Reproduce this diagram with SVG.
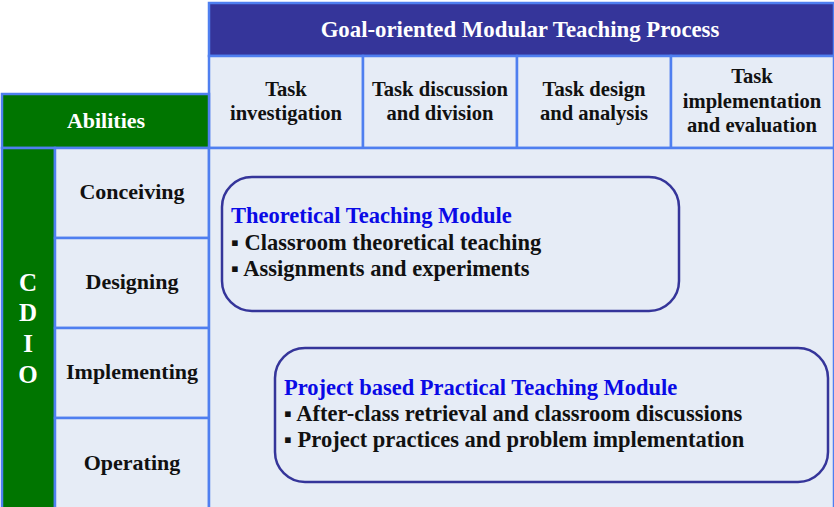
<svg xmlns="http://www.w3.org/2000/svg" width="834" height="507" viewBox="0 0 834 507">
<style>
  .cell { fill: #e6ecf6; stroke: #4f7ff0; stroke-width: 2.5; }
  .green { fill: #007500; stroke: #4f7ff0; stroke-width: 2.5; }
  .navy { fill: #35359a; stroke: #4f7ff0; stroke-width: 2.5; }
  .module { fill: #e6ecf6; stroke: #35359a; stroke-width: 2.5; }
  text { font-family: "Liberation Serif", "Times New Roman", serif; font-weight: bold; }
  .hdr { font-size: 20.6px; fill: #111; text-anchor: middle; }
  .ab { font-size: 22px; fill: #111; text-anchor: middle; }
  .white { fill: #ffffff; }
  .mt { font-size: 22.5px; fill: #0a0ae6; }
  .mi { font-size: 22.5px; fill: #111; }
</style>
<rect x="0" y="0" width="834" height="507" fill="#ffffff"/>

<g id="title">
  <rect class="navy" x="209" y="3" width="625" height="53"/>
  <text class="white" x="520" y="37" font-size="22.8" text-anchor="middle">Goal-oriented Modular Teaching Process</text>
</g>

<g id="col1">
  <rect class="cell" x="209" y="56" width="154" height="92"/>
  <text class="hdr" x="286" y="96">Task</text>
  <text class="hdr" x="286" y="120">investigation</text>
</g>
<g id="col2">
  <rect class="cell" x="363" y="56" width="154" height="92"/>
  <text class="hdr" x="440" y="96">Task discussion</text>
  <text class="hdr" x="440" y="120">and division</text>
</g>
<g id="col3">
  <rect class="cell" x="517" y="56" width="154" height="92"/>
  <text class="hdr" x="594" y="96">Task design</text>
  <text class="hdr" x="594" y="120">and analysis</text>
</g>
<g id="col4">
  <rect class="cell" x="671" y="56" width="163" height="92"/>
  <text class="hdr" x="752" y="83">Task</text>
  <text class="hdr" x="752" y="108">implementation</text>
  <text class="hdr" x="752" y="132">and evaluation</text>
</g>

<g id="abilities">
  <rect class="green" x="2" y="94" width="207" height="54"/>
  <text class="white" x="106" y="128" font-size="22" text-anchor="middle">Abilities</text>
</g>

<g id="cdio">
  <rect class="green" x="2" y="148" width="53" height="361"/>
  <text class="white" x="28" y="291" font-size="25" text-anchor="middle">C</text>
  <text class="white" x="28" y="321" font-size="25" text-anchor="middle">D</text>
  <text class="white" x="28" y="352" font-size="25" text-anchor="middle">I</text>
  <text class="white" x="28" y="383" font-size="25" text-anchor="middle">O</text>
</g>

<g id="conceiving">
  <rect class="cell" x="55" y="148" width="154" height="90"/>
  <text class="ab" x="132" y="199">Conceiving</text>
</g>
<g id="designing">
  <rect class="cell" x="55" y="238" width="154" height="90"/>
  <text class="ab" x="132" y="289">Designing</text>
</g>
<g id="implementing">
  <rect class="cell" x="55" y="328" width="154" height="90"/>
  <text class="ab" x="132" y="379">Implementing</text>
</g>
<g id="operating">
  <rect class="cell" x="55" y="418" width="154" height="91"/>
  <text class="ab" x="132" y="470">Operating</text>
</g>

<g id="content">
  <rect class="cell" x="209" y="148" width="625" height="361"/>
</g>

<g id="theoretical">
  <rect class="module" x="222" y="177" width="457" height="134" rx="30" ry="30"/>
  <text class="mt" x="231" y="223">Theoretical Teaching Module</text>
  <text class="mi" x="231" y="250">▪ Classroom theoretical teaching</text>
  <text class="mi" x="231" y="276">▪ Assignments and experiments</text>
</g>

<g id="practical">
  <rect class="module" x="275" y="348" width="553" height="134" rx="30" ry="30"/>
  <text class="mt" x="284" y="395">Project based Practical Teaching Module</text>
  <text class="mi" x="284" y="421">▪ After-class retrieval and classroom discussions</text>
  <text class="mi" x="284" y="447">▪ Project practices and problem implementation</text>
</g>

<g id="connectors"></g>
</svg>
